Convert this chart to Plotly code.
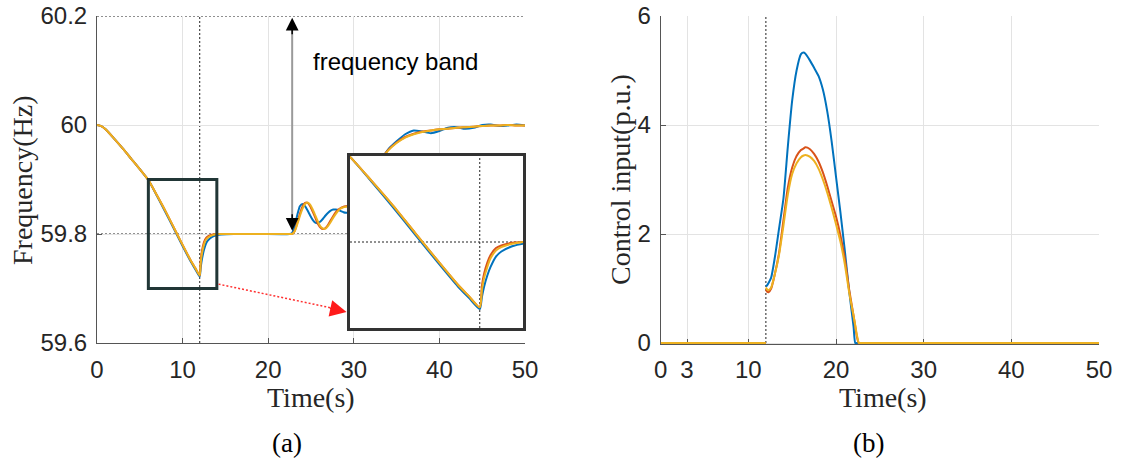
import plotly.graph_objects as go

# ---------------- data ----------------
t_freq = [0, 0.5, 1, 2, 3, 4, 5, 6, 7, 8,
          9, 10, 11, 11.5, 12, 12.1, 12.2, 12.35, 12.5, 12.75,
          13, 13.5, 14, 14.5, 16, 19, 22.5, 22.8, 23.1, 23.4,
          23.7, 24.0, 24.3, 24.6, 24.9, 25.2, 25.5, 25.8, 26.1, 26.4,
          26.7, 27.0, 27.3, 27.6, 27.9, 28.2, 28.5, 28.8, 29.1, 29.4,
          29.7, 30.2, 31, 32, 33, 34, 35, 36, 37, 38,
          39, 40, 41, 42, 43, 44, 45, 46, 47, 48,
          49, 50]

freq_blue = [60.000, 59.998, 59.992, 59.975, 59.957, 59.938, 59.919, 59.899, 59.870, 59.840,
             59.809, 59.778, 59.748, 59.735, 59.722, 59.736, 59.748, 59.761, 59.771, 59.783,
             59.789, 59.795, 59.798, 59.799, 59.800, 59.800, 59.800, 59.802, 59.815, 59.835,
             59.851, 59.855, 59.851, 59.843, 59.834, 59.826, 59.821, 59.820, 59.823, 59.828,
             59.834, 59.839, 59.843, 59.845, 59.845, 59.844, 59.842, 59.840, 59.839, 59.839,
             59.841, 59.848, 59.868, 59.900, 59.930, 59.955, 59.970, 59.983, 59.990, 59.988,
             59.985, 59.989, 59.995, 59.996, 59.993, 59.995, 60.000, 60.001, 59.998, 59.999,
             60.001, 59.999]

freq_orange = [60.000, 59.998, 59.992, 59.975, 59.957, 59.938, 59.919, 59.899, 59.871, 59.842,
               59.811, 59.780, 59.750, 59.737, 59.724, 59.749, 59.763, 59.776, 59.785, 59.793,
               59.796, 59.799, 59.800, 59.800, 59.800, 59.800, 59.800, 59.800, 59.806, 59.821,
               59.837, 59.850, 59.857, 59.857, 59.851, 59.841, 59.830, 59.819, 59.812, 59.809,
               59.811, 59.817, 59.825, 59.833, 59.840, 59.845, 59.848, 59.850, 59.851, 59.852,
               59.853, 59.858, 59.876, 59.906, 59.933, 59.954, 59.968, 59.978, 59.984, 59.988,
               59.990, 59.992, 59.993, 59.995, 59.996, 59.997, 59.998, 59.999, 59.999, 60.000,
               59.999, 59.999]

freq_yellow = [60.000, 59.998, 59.992, 59.975, 59.957, 59.938, 59.919, 59.899, 59.871, 59.842,
               59.811, 59.780, 59.750, 59.737, 59.724, 59.744, 59.758, 59.771, 59.781, 59.790,
               59.794, 59.798, 59.800, 59.800, 59.800, 59.800, 59.800, 59.800, 59.805, 59.818,
               59.833, 59.846, 59.855, 59.858, 59.854, 59.845, 59.834, 59.823, 59.814, 59.810,
               59.810, 59.815, 59.822, 59.830, 59.837, 59.843, 59.847, 59.849, 59.850, 59.851,
               59.853, 59.858, 59.875, 59.905, 59.932, 59.953, 59.967, 59.977, 59.983, 59.987,
               59.990, 59.992, 59.993, 59.995, 59.996, 59.997, 59.998, 59.999, 59.999, 60.000,
               59.999, 59.999]

t_ctrl = [0, 12, 12, 12.0, 12.15, 12.3, 12.6, 13.0, 13.5, 14.0,
          14.5, 15.0, 15.5, 16.0, 16.3, 16.5, 17.0, 17.5, 18.0, 18.5,
          19.0, 19.5, 20.0, 20.5, 21.0, 21.5, 22.0, 22.2, 22.4, 22.6,
          22.7, 50]

ctrl_blue = [0, 0, None, 1.04, 1.06, 1.10, 1.20, 1.55, 2.10, 2.65,
             3.60, 4.45, 5.00, 5.30, 5.33, 5.31, 5.19, 5.05, 4.90, 4.65,
             4.25, 3.70, 3.05, 2.40, 1.70, 0.95, 0.30, 0.00, 0.00, 0.00,
             0.00, 0.00]

ctrl_orange = [0, 0, None, 0.98, 0.94, 0.93, 1.00, 1.25, 1.65, 2.25,
               2.85, 3.22, 3.43, 3.54, 3.57, 3.59, 3.56, 3.47, 3.33, 3.13,
               2.88, 2.60, 2.32, 1.98, 1.55, 0.98, 0.50, 0.30, 0.10, 0.00,
               0.00, 0.00]

ctrl_yellow = [0, 0, None, 1.02, 0.98, 0.97, 1.02, 1.25, 1.62, 2.15,
               2.72, 3.10, 3.30, 3.41, 3.44, 3.45, 3.42, 3.34, 3.20, 3.00,
               2.76, 2.48, 2.18, 1.86, 1.45, 0.93, 0.50, 0.32, 0.13, 0.00,
               0.00, 0.00]

x_ticks_a = [0, 10, 20, 30, 40, 50]
y_ticks_a = [59.6, 59.8, 60, 60.2]
y_ticktext_a = ["59.6", "59.8", "60", "60.2"]
x_ticks_b = [0, 3, 10, 20, 30, 40, 50]
y_ticks_b = [0, 2, 4, 6]

colors = ["#0072BD", "#D95319", "#EDB120"]

# ---------------- figure ----------------
W, H = 1125, 461
fig = go.Figure()

for vals, c in zip([freq_blue, freq_orange, freq_yellow], colors):
    fig.add_trace(go.Scatter(x=t_freq, y=vals, mode="lines", xaxis="x", yaxis="y",
                             line=dict(color=c, width=2, shape="spline", smoothing=0.6),
                             showlegend=False, hoverinfo="skip"))
for vals, c in zip([ctrl_blue, ctrl_orange, ctrl_yellow], colors):
    fig.add_trace(go.Scatter(x=t_ctrl, y=vals, mode="lines", xaxis="x2", yaxis="y2",
                             connectgaps=False,
                             line=dict(color=c, width=2, shape="spline", smoothing=0.6),
                             showlegend=False, hoverinfo="skip"))
for vals, c in zip([freq_blue, freq_orange, freq_yellow], colors):
    fig.add_trace(go.Scatter(x=t_freq, y=vals, mode="lines", xaxis="x3", yaxis="y3",
                             line=dict(color=c, width=2, shape="spline", smoothing=0.6),
                             showlegend=False, hoverinfo="skip"))

tickfont = dict(family="Liberation Sans, Arial", size=24, color="#262626")
axcommon = dict(showline=True, linecolor="#555", linewidth=1, ticks="inside", ticklen=5,
                tickcolor="#555", showgrid=True, gridcolor="#e3e3e3", gridwidth=1,
                zeroline=False, tickfont=tickfont, mirror=False, automargin=False,
                layer="below traces", ticklabeloverflow="allow")

py = lambda p: 1 - p / H
px = lambda p: p / W

fig.update_layout(
    template="none",
    width=W, height=H,
    margin=dict(l=0, r=0, t=0, b=0, pad=0),
    paper_bgcolor="white", plot_bgcolor="white",
    xaxis=dict(domain=[px(97), px(525)], range=[0, 50], tickvals=x_ticks_a,
               anchor="y", ticklabelstandoff=5, **axcommon),
    yaxis=dict(domain=[py(343), py(16)], range=[59.6, 60.2], tickvals=y_ticks_a,
               ticktext=y_ticktext_a, anchor="x", ticklabelstandoff=4, **axcommon),
    xaxis2=dict(domain=[px(660.7), px(1099)], range=[0, 50], tickvals=x_ticks_b,
                anchor="y2", ticklabelstandoff=4, **axcommon),
    yaxis2=dict(domain=[py(344.1), py(16)], range=[-0.02, 6], tickvals=y_ticks_b,
                anchor="x2", ticklabelstandoff=4, **axcommon),
    xaxis3=dict(domain=[px(350), px(523)], range=[6, 14], anchor="y3", automargin=False,
                showline=True, mirror=True, linecolor="#333", linewidth=3,
                showgrid=False, zeroline=False, showticklabels=False, ticks=""),
    yaxis3=dict(domain=[py(328), py(156)], range=[59.7, 59.9], anchor="x3", automargin=False,
                showline=True, mirror=True, linecolor="#333", linewidth=3,
                showgrid=False, zeroline=False, showticklabels=False, ticks=""),
)

dot = "2px,2px"
shapes = [
    dict(type="line", xref="x", yref="y", x0=0, x1=50, y0=60.2, y1=60.2,
         line=dict(color="#222", width=1, dash=dot), layer="below"),
    dict(type="line", xref="x", yref="y", x0=0, x1=50, y0=59.8, y1=59.8,
         line=dict(color="#222", width=1, dash=dot), layer="below"),
    dict(type="line", xref="x", yref="y", x0=12, x1=12, y0=59.6, y1=60.2,
         line=dict(color="#222", width=1, dash=dot), layer="below"),
    dict(type="rect", xref="x", yref="y", x0=6, x1=14, y0=59.7, y1=59.9,
         line=dict(color="#213636", width=3), layer="above"),
    dict(type="line", xref="x", yref="y", x0=22.8, x1=22.8, y0=59.81, y1=60.19,
         line=dict(color="#9a9a9a", width=2), layer="above"),
    dict(type="line", xref="x", yref="y", x0=14.2, x1=28.4, y0=59.708, y1=59.661,
         line=dict(color="#ff3030", width=1.5, dash=dot), layer="above"),
    dict(type="line", xref="x3", yref="y3", x0=6, x1=14, y0=59.8, y1=59.8,
         line=dict(color="#222", width=1, dash=dot), layer="below"),
    dict(type="line", xref="x3", yref="y3", x0=12, x1=12, y0=59.7, y1=59.9,
         line=dict(color="#222", width=1, dash=dot), layer="below"),
    dict(type="line", xref="x2", yref="y2", x0=12, x1=12, y0=0, y1=6,
         line=dict(color="#222", width=1, dash=dot), layer="below"),
]
fig.update_layout(shapes=shapes)

serif = "Liberation Serif, Times New Roman, serif"
C = dict(xanchor="center", yanchor="middle", showarrow=False)
ann = [
    dict(text="frequency band", xref="x", yref="y", x=34.9, y=60.117,
         font=dict(family="Liberation Sans, Arial", size=24, color="black"), **C),
    dict(text="", xref="x", yref="y", x=22.8, y=60.197, ax=0, ay=18, showarrow=True,
         arrowhead=2, arrowsize=1.7, arrowwidth=1.5, arrowcolor="black", standoff=0),
    dict(text="", xref="x", yref="y", x=22.8, y=59.806, ax=0, ay=-18, showarrow=True,
         arrowhead=2, arrowsize=1.7, arrowwidth=1.5, arrowcolor="black", standoff=0),
    dict(text="", xref="x", yref="y", x=29.15, y=59.657, ax=-18, ay=-4, showarrow=True,
         arrowhead=2, arrowsize=2.2, arrowwidth=1.5, arrowcolor="#ff1a1a", standoff=0),
    dict(text="Time(s)", xref="paper", yref="paper", x=px(311), y=py(397),
         font=dict(family=serif, size=28, color="#262626"), **C),
    dict(text="Time(s)", xref="paper", yref="paper", x=px(883), y=py(397),
         font=dict(family=serif, size=28, color="#262626"), **C),
    dict(text="Frequency(Hz)", xref="paper", yref="paper", x=px(22), y=py(181),
         textangle=-90, font=dict(family=serif, size=28, color="#262626"), **C),
    dict(text="Control input(p.u.)", xref="paper", yref="paper", x=px(621), y=py(180),
         textangle=-90, font=dict(family=serif, size=28, color="#262626"), **C),
    dict(text="(a)", xref="paper", yref="paper", x=px(287), y=py(443),
         font=dict(family=serif, size=27, color="black"), **C),
    dict(text="(b)", xref="paper", yref="paper", x=px(868), y=py(443),
         font=dict(family=serif, size=27, color="black"), **C),
]
fig.update_layout(annotations=ann)

fig.write_html("out.html", config={"displayModeBar": False},
               post_script="document.body.style.margin='0';document.body.style.overflow='hidden';")
